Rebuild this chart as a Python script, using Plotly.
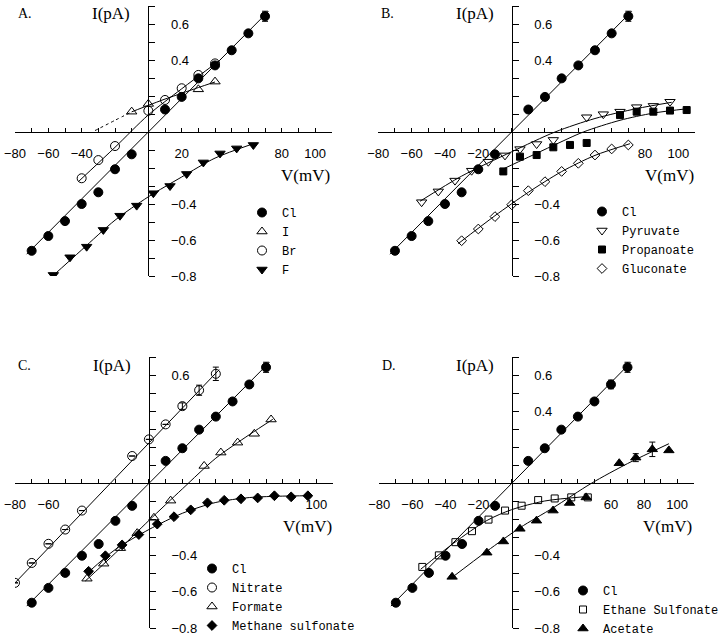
import plotly.graph_objects as go

W, H = 720, 636

# ---------------- data (V in mV, I in pA) ----------------
# Chloride reference (shown in every panel)
cl_v = [-70, -60, -50, -40, -30, -20, -10, 10, 20, 30, 40, 50, 60, 70]
cl_i = [-0.660, -0.578, -0.495, -0.400, -0.335, -0.207, -0.124, 0.125, 0.195, 0.298, 0.370, 0.454, 0.548, 0.643]
cl_err = [None] * 13 + [0.028]
cl_err_d = [None] * 12 + [0.024, 0.028]
cl_fit_v = [-73, 72]
cl_fit_i = [-0.679, 0.670]

# Panel A
i_v = [-10, 0, 30, 40]
i_i = [0.113, 0.156, 0.237, 0.280]
i_fit_v = [-10, 0, 10, 20, 30, 40]
i_fit_i = [0.112, 0.148, 0.183, 0.215, 0.247, 0.278]
i_dot_v = [-32, -20, -10]
i_dot_i = [0.008, 0.065, 0.112]
br_v = [-40, -30, -20, 0, 10, 20, 30, 40]
br_i = [-0.257, -0.156, -0.078, 0.118, 0.178, 0.243, 0.317, 0.381]
br_fit_v = [-42, -20, 0, 20, 42]
br_fit_i = [-0.276, -0.085, 0.095, 0.240, 0.392]
f_v = [-57, -47, -37, -27, -17, -7, 3, 13, 23, 33, 43, 53, 63]
f_i = [-0.794, -0.696, -0.637, -0.544, -0.465, -0.409, -0.340, -0.300, -0.233, -0.169, -0.119, -0.091, -0.072]
f_fit_v = [-58, -40, -20, 0, 20, 40, 63]
f_fit_i = [-0.805, -0.655, -0.490, -0.360, -0.250, -0.145, -0.065]

# Panel B
pyr_v = [-54, -44, -34, -24, -14, -4, 5, 15, 25, 45, 55, 65, 75, 85, 95]
pyr_i = [-0.390, -0.330, -0.270, -0.215, -0.165, -0.130, -0.095, -0.067, -0.044, 0.082, 0.099, 0.113, 0.138, 0.145, 0.168]
pyr_fit_v = [-55, -30, 0, 26, 50, 75, 96]
pyr_fit_i = [-0.385, -0.245, -0.110, 0.000, 0.075, 0.130, 0.165]
prop_v = [-5, 5, 15, 25, 35, 45, 65, 75, 85, 95, 105]
prop_i = [-0.219, -0.137, -0.128, -0.085, -0.072, -0.061, 0.094, 0.113, 0.113, 0.119, 0.122]
prop_fit_v = [-5, 10, 25, 43, 65, 85, 106]
prop_fit_i = [-0.205, -0.140, -0.075, 0.000, 0.065, 0.105, 0.130]
gluc_v = [-30, -20, -10, 0, 10, 20, 30, 40, 50, 60, 70]
gluc_i = [-0.604, -0.539, -0.470, -0.404, -0.326, -0.276, -0.219, -0.174, -0.128, -0.094, -0.072]
gluc_fit_v = [-32, -10, 10, 30, 50, 71]
gluc_fit_i = [-0.620, -0.465, -0.335, -0.220, -0.130, -0.065]

# Panel C
nit_v = [-80, -70, -60, -50, -40, -10, 0, 10, 20, 30, 40]
nit_i = [-0.550, -0.440, -0.334, -0.255, -0.150, 0.152, 0.244, 0.327, 0.428, 0.516, 0.607]
nit_err = [None] * 8 + [0.018, 0.028, 0.037]
nit_fit_v = [-81, 42]
nit_fit_i = [-0.560, 0.630]
form_v = [-37, -27, -17, -7, 3, 13, 33, 43, 53, 63, 73]
form_i = [-0.527, -0.444, -0.358, -0.275, -0.190, -0.095, 0.097, 0.171, 0.226, 0.275, 0.354]
form_fit_v = [-38, -20, 0, 20, 40, 60, 74]
form_fit_i = [-0.540, -0.385, -0.205, -0.030, 0.140, 0.270, 0.355]
meth_v = [-36, -26, -16, -6, 5, 15, 25, 35, 45, 55, 65, 75, 85, 95]
meth_i = [-0.486, -0.400, -0.340, -0.283, -0.225, -0.184, -0.146, -0.107, -0.093, -0.085, -0.080, -0.068, -0.074, -0.068]
meth_fit_v = [-36, -20, 0, 20, 40, 60, 80, 95]
meth_fit_i = [-0.490, -0.365, -0.255, -0.165, -0.105, -0.078, -0.070, -0.068]

# Panel D
eth_v = [-54, -44, -34, -24, -14, -4, 6, 16, 26, 36, 46]
eth_i = [-0.462, -0.398, -0.325, -0.264, -0.200, -0.150, -0.123, -0.092, -0.083, -0.077, -0.077]
eth_fit_v = [-55, -35, -15, 0, 20, 46]
eth_fit_i = [-0.475, -0.330, -0.205, -0.145, -0.097, -0.072]
acet_v = [-36, -15, -5, 5, 15, 25, 35, 45, 65, 75, 85, 95]
acet_i = [-0.517, -0.383, -0.321, -0.251, -0.206, -0.150, -0.108, -0.077, 0.112, 0.143, 0.189, 0.183]
acet_err = [None] * 9 + [0.022, 0.040, None]
acet_fit_v = [-36, -15, 5, 25, 48, 70, 95]
acet_fit_i = [-0.520, -0.375, -0.245, -0.135, 0.000, 0.110, 0.220]

# axis ticks / labels
x_tickvals = [-80, -70, -60, -50, -40, -30, -20, -10, 0, 10, 20, 30, 40, 50, 60, 70, 80, 90, 100, 110]
y_tickvals = [-0.8, -0.7, -0.6, -0.5, -0.4, -0.3, -0.2, -0.1, 0.0, 0.1, 0.2, 0.3, 0.4, 0.5, 0.6, 0.7]
x_labels = {
    1: {-80: "\u221280", -60: "\u221260", -40: "\u221240", 20: "20", 80: "80", 100: "100"},
    2: {-80: "\u221280", -60: "\u221260", -40: "\u221240", -20: "\u221220", 80: "80", 100: "100"},
    3: {-80: "\u221280", -60: "\u221260", 100: "100"},
    4: {-80: "\u221280", -60: "\u221260", -40: "\u221240", -20: "\u221220", 60: "60", 80: "80", 100: "100"},
}
y_labels = {
    1: {0.6: "0.6", 0.4: "0.4", -0.4: "\u22120.4", -0.6: "\u22120.6", -0.8: "\u22120.8"},
    2: {0.6: "0.6", 0.4: "0.4", -0.4: "\u22120.4", -0.6: "\u22120.6", -0.8: "\u22120.8"},
    3: {0.6: "0.6", -0.4: "\u22120.4", -0.6: "\u22120.6", -0.8: "\u22120.8"},
    4: {0.6: "0.6", 0.4: "0.4", -0.4: "\u22120.4", -0.6: "\u22120.6", -0.8: "\u22120.8"},
}
panel_letters = {1: "A.", 2: "B.", 3: "C.", 4: "D."}

X_RANGE = [-80, 110]
Y_RANGE = [-0.8, 0.7]

# pixel layout of each panel: x-domain (px), y-domain (px from top)
panel_px = {
    1: ((15, 331.7), (6, 276)),
    2: ((378.3, 695), (6, 276)),
    3: ((15, 333), (357, 628)),
    4: ((379.3, 693.7), (357, 628)),
}


def px(x):
    return x / W


def py(y):
    return 1 - y / H


fig = go.Figure()

SERIF = "Liberation Serif"
SANS = "Liberation Sans"
MONO = "Liberation Mono"


def ax(n, kind):
    return kind if n == 1 else f"{kind}{n}"


def add_fit(n, v, i, dash="solid", spline=True):
    fig.add_trace(go.Scatter(
        x=v, y=i, mode="lines", xaxis=ax(n, "x"), yaxis=ax(n, "y"),
        line=dict(color="black", width=1, dash=dash, shape="spline" if spline else "linear", smoothing=0.8),
        showlegend=False, hoverinfo="skip"))


def add_pts(n, v, i, name, symbol, size, err=None):
    kw = {}
    if err is not None:
        kw["error_y"] = dict(type="data", array=err, visible=True, color="black", thickness=1, width=3)
    fig.add_trace(go.Scatter(
        x=v, y=i, mode="markers", name=name, xaxis=ax(n, "x"), yaxis=ax(n, "y"),
        legend="legend" if n == 1 else f"legend{n}",
        marker=dict(symbol=symbol, size=size, color="black", line=dict(color="black", width=1)),
        **kw))


# Panel A
add_fit(1, cl_fit_v, cl_fit_i, spline=False)
add_fit(1, i_fit_v, i_fit_i)
add_fit(1, i_dot_v, i_dot_i, dash="dot")
add_fit(1, br_fit_v, br_fit_i)
add_fit(1, f_fit_v, f_fit_i)
add_pts(1, cl_v, cl_i, "Cl", "circle", 9, cl_err)
add_pts(1, i_v, i_i, "I", "triangle-up-open", 9)
add_pts(1, br_v, br_i, "Br", "circle-open", 9)
add_pts(1, f_v, f_i, "F", "triangle-down", 9)

# Panel B
add_fit(2, cl_fit_v, cl_fit_i, spline=False)
add_fit(2, pyr_fit_v, pyr_fit_i)
add_fit(2, prop_fit_v, prop_fit_i)
add_fit(2, gluc_fit_v, gluc_fit_i)
add_pts(2, cl_v, cl_i, "Cl", "circle", 9, cl_err)
add_pts(2, pyr_v, pyr_i, "Pyruvate", "triangle-down-open", 9)
add_pts(2, prop_v, prop_i, "Propanoate", "square", 7)
add_pts(2, gluc_v, gluc_i, "Gluconate", "diamond-open", 7.5)

# Panel C
add_fit(3, cl_fit_v, cl_fit_i, spline=False)
add_fit(3, nit_fit_v, nit_fit_i, spline=False)
add_fit(3, form_fit_v, form_fit_i)
add_fit(3, meth_fit_v, meth_fit_i)
add_pts(3, cl_v, cl_i, "Cl", "circle", 9, cl_err)
add_pts(3, nit_v, nit_i, "Nitrate", "circle-open", 9, nit_err)
add_pts(3, form_v, form_i, "Formate", "triangle-up-open", 9)
add_pts(3, meth_v, meth_i, "Methane sulfonate", "diamond", 7.5)

# Panel D
add_fit(4, cl_fit_v, cl_fit_i, spline=False)
add_fit(4, eth_fit_v, eth_fit_i)
add_fit(4, acet_fit_v, acet_fit_i)
add_pts(4, cl_v, cl_i, "Cl", "circle", 9, cl_err_d)
add_pts(4, eth_v, eth_i, "Ethane Sulfonate", "square-open", 7)
add_pts(4, acet_v, acet_i, "Acetate", "triangle-up", 9, acet_err)

layout = dict(
    width=W, height=H, autosize=False,
    margin=dict(l=0, r=0, t=0, b=0, autoexpand=False),
    paper_bgcolor="white", plot_bgcolor="white",
    showlegend=True,
)

annotations = []
legend_px = {1: (242, 198), 2: (582, 197), 3: (192, 554), 4: (563, 576)}

for n in range(1, 5):
    (x0, x1), (yt, yb) = panel_px[n]
    xdom = [px(x0), px(x1)]
    ydom = [py(yb), py(yt)]
    zero_x = xdom[0] + (0 - X_RANGE[0]) / (X_RANGE[1] - X_RANGE[0]) * (xdom[1] - xdom[0])
    zero_y = ydom[0] + (0 - Y_RANGE[0]) / (Y_RANGE[1] - Y_RANGE[0]) * (ydom[1] - ydom[0])
    xt = [x_labels[n].get(v, "") for v in x_tickvals]
    yt_txt = [y_labels[n].get(v, "") for v in y_tickvals]
    layout[ax(n, "xaxis")] = dict(
        domain=xdom, range=X_RANGE, anchor="free", position=zero_y, side="bottom",
        tickmode="array", tickvals=x_tickvals, ticktext=xt,
        ticks="inside", ticklen=4, tickwidth=1, tickcolor="black",
        showline=True, linecolor="black", linewidth=1,
        showgrid=False, zeroline=False,
        tickfont=dict(family=SANS, size=13, color="black"),
        ticklabelstandoff=9,
    )
    layout[ax(n, "yaxis")] = dict(
        domain=ydom, range=Y_RANGE, anchor="free", position=zero_x, side="right",
        tickmode="array", tickvals=y_tickvals, ticktext=yt_txt,
        ticks="outside", ticklen=6, tickwidth=1, tickcolor="black",
        showline=True, linecolor="black", linewidth=1,
        showgrid=False, zeroline=False,
        tickfont=dict(family=SANS, size=13, color="black"),
        ticklabelstandoff=13,
    )
    zx_px = zero_x * W
    zy_px = (1 - zero_y) * H
    # axis titles
    annotations.append(dict(text="I(pA)", xref="paper", yref="paper",
                            x=px(zx_px - 16), y=py(yt + 8), xanchor="right", yanchor="middle",
                            showarrow=False, font=dict(family=SERIF, size=17, color="black")))
    annotations.append(dict(text="V(mV)", xref="paper", yref="paper",
                            x=px(x1 - 26), y=py(zy_px + 43), xanchor="center", yanchor="middle",
                            showarrow=False, font=dict(family=SERIF, size=17, color="black")))
    annotations.append(dict(text=panel_letters[n], xref="paper", yref="paper",
                            x=px(x0 + 1), y=py(yt + 8), xanchor="left", yanchor="middle",
                            showarrow=False, font=dict(family=SERIF, size=14, color="black")))
    lx, ly = legend_px[n]
    layout["legend" if n == 1 else f"legend{n}"] = dict(
        x=px(lx), y=py(ly), xanchor="left", yanchor="top", xref="paper", yref="paper",
        bgcolor="rgba(0,0,0,0)", borderwidth=0, tracegroupgap=0, itemwidth=30,
        font=dict(family=MONO, size=12, color="black"))

layout["annotations"] = annotations
fig.update_layout(**layout)
fig.write_html("out.html", config={"displayModeBar": False},
               post_script="document.body.style.margin='0px';")
